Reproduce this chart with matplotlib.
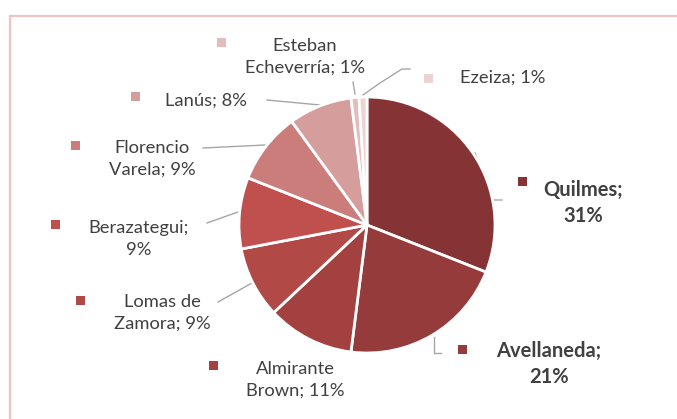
import matplotlib
matplotlib.use("Agg")
import matplotlib.pyplot as plt
from matplotlib.patches import Rectangle

categories = ["Quilmes", "Avellaneda", "Almirante Brown", "Lomas de Zamora", "Berazategui",
              "Florencio Varela", "Lanús", "Esteban Echeverría", "Ezeiza"]
values = [31, 21, 11, 9, 9, 9, 8, 1, 1]
label_texts = ["Quilmes;\n31%", "Avellaneda;\n21%", "Almirante\nBrown; 11%", "Lomas de\nZamora; 9%",
               "Berazategui;\n9%", "Florencio\nVarela; 9%", "Lanús; 8%", "Esteban\nEcheverría; 1%",
               "Ezeiza; 1%"]
colors = ["#853335", "#963B3C", "#A34141", "#B14947", "#C0504D", "#CB7D7B", "#D59E9D", "#E3BCBC", "#EDD3D3"]

W, H = 677, 419
fig = plt.figure(figsize=(W / 100, H / 100), dpi=100)
ax = fig.add_axes([0, 0, 1, 1])

def Y(y):
    return H - y

cx, cy, r = 367, 225, 128
ax.pie(values, colors=colors, startangle=90, counterclock=False, center=(cx, Y(cy)), radius=r,
       wedgeprops=dict(edgecolor="white", linewidth=2), frame=True)
ax.set_xlim(0, W)
ax.set_ylim(0, H)
ax.set_aspect("equal")
ax.axis("off")

# border
ax.add_patch(Rectangle((9.5, Y(425)), 700, 425 - 15.5, fill=False, edgecolor="#F0C2C2", lw=1.6))

font = "Lato"
tc = "#404040"
# (square x, square y, text x, text y, ha, bold)
layout = [
    (522, 182, 583, 203, "center", True),
    (462, 349, 549, 364, "center", True),
    (213, 366, 295, 380, "center", False),
    (80, 300, 162, 313, "center", False),
    (55, 225, 139, 239, "center", False),
    (75, 145, 152, 159, "center", False),
    (135, 96, 206, 101, "center", False),
    (221, 42, 305, 57, "center", False),
    (428, 78, 460, 78, "left", False),
]
for (sx, sy, tx, ty, ha, bold), txt, col in zip(layout, label_texts, colors):
    ax.add_patch(Rectangle((sx - 4.5, Y(sy) - 4.5), 9, 9, facecolor=col, edgecolor="none"))
    ax.text(tx, Y(ty), txt, ha=ha, va="center", fontsize=14.5 if bold else 13.2, family=font,
            color=tc, fontweight="bold" if bold else "normal", linespacing=1.42)

leaders = [
    [(475, 153), (493, 200), (502, 200)],
    [(434, 337), (434, 353), (441, 353)],
    [(267, 100), (320, 105)],
    [(203, 148), (265, 145)],
    [(207, 223), (238, 212)],
    [(218, 302), (252, 283)],
    [(355, 94), (353, 82)],
    [(363, 95), (380, 83), (402, 69), (410, 69)],
]
for pts in leaders:
    ax.plot([p[0] for p in pts], [Y(p[1]) for p in pts], color="#A6A6A6", lw=1, zorder=0.5)

fig.savefig("out.png", dpi=100)
